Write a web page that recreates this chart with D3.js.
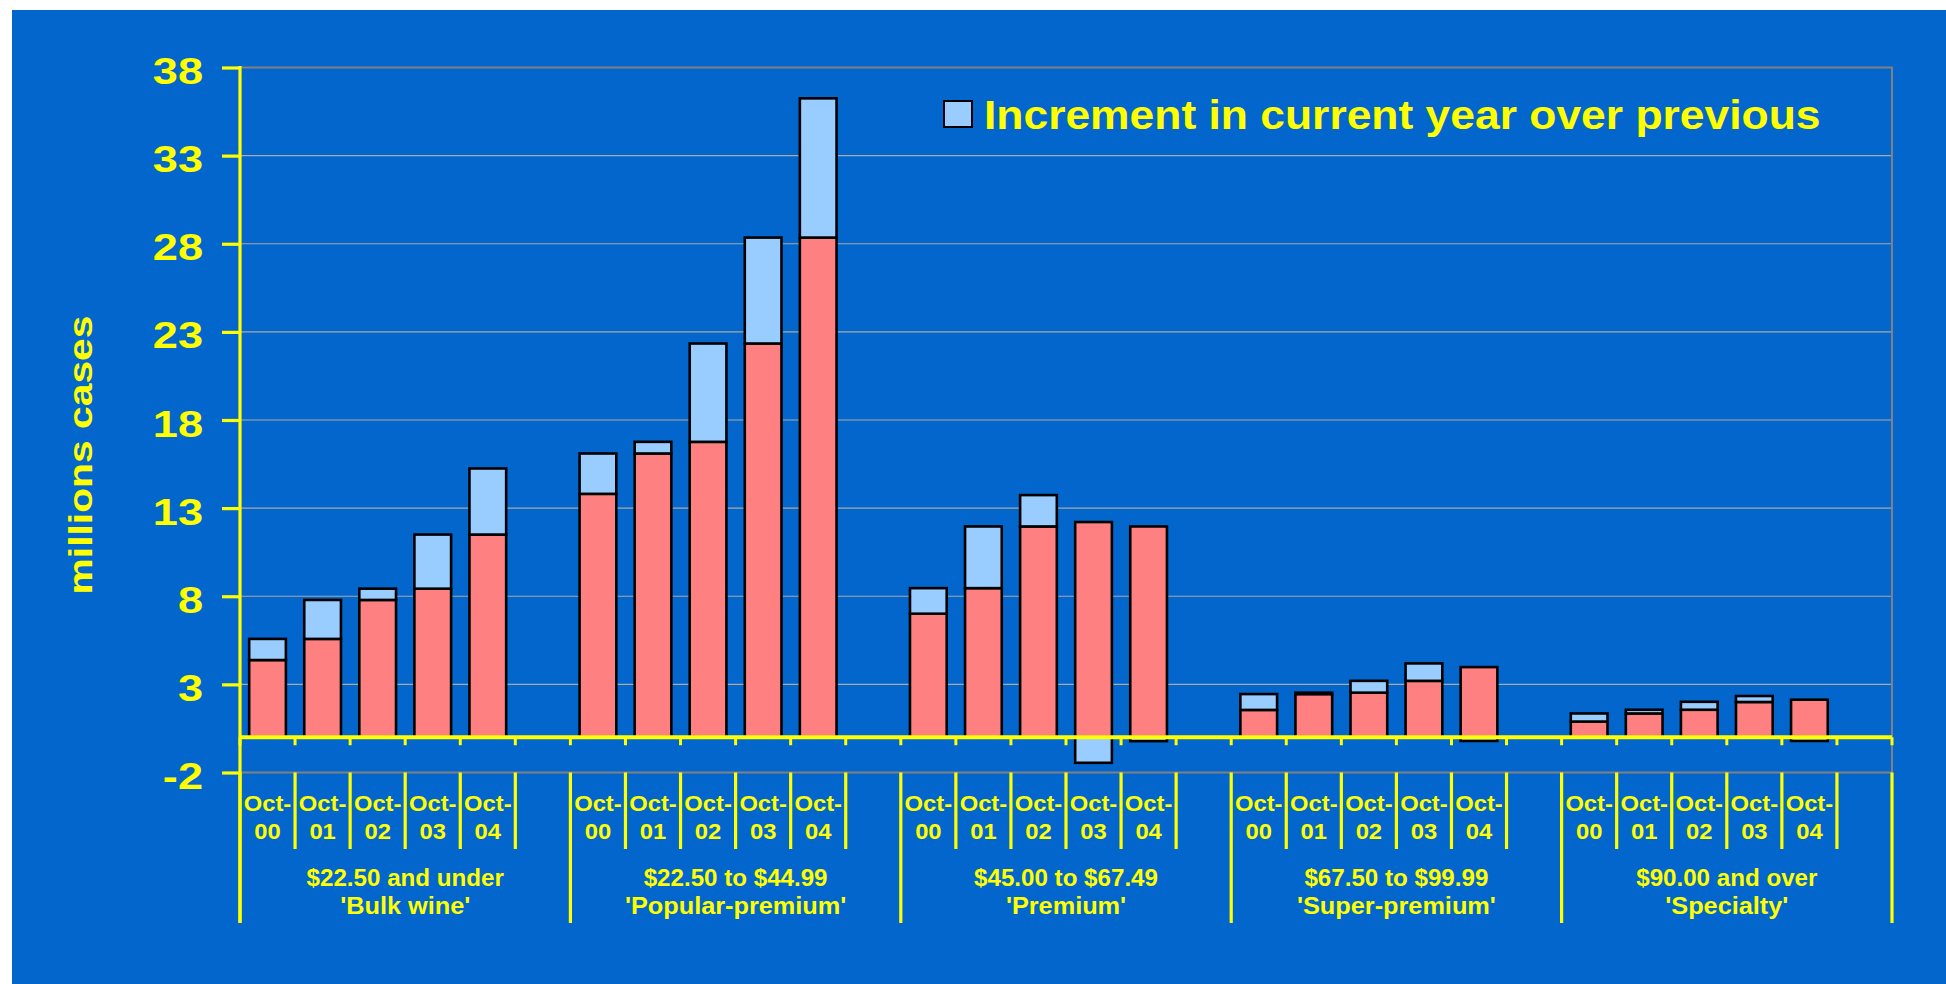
<!DOCTYPE html>
<html>
<head>
<meta charset="utf-8">
<script src="https://cdn.jsdelivr.net/npm/d3@7"></script>
<style>
  html, body { margin: 0; padding: 0; background: #ffffff; }
  svg { display: block; }
  text { font-family: "Liberation Sans", Arial, Helvetica, sans-serif; font-weight: bold; fill: #FFFF00; }
</style>
</head>
<body>
<svg id="chart" width="1946" height="984"></svg>
<script>
// ---------------- data ----------------
const groupPrice = ["$22.50 and under", "$22.50 to $44.99", "$45.00 to $67.49", "$67.50 to $99.99", "$90.00 and over"];
const groupName  = ["'Bulk wine'", "'Popular-premium'", "'Premium'", "'Super-premium'", "'Specialty'"];
const years = ["Oct-00", "Oct-01", "Oct-02", "Oct-03", "Oct-04"];
const yTicks = [-2, 3, 8, 13, 18, 23, 28, 33, 38];
const legendLabel = "Increment in current year over previous";
const yTitle = "millions cases";

// red part (base: previous year / retained volume), millions of cases
const bulkBase      = [4.38, 5.58, 7.79, 8.43, 11.50];
const popularBase   = [13.81, 16.10, 16.76, 22.34, 28.35];
const premiumBase   = [7.01, 8.46, 11.96, 12.21, 11.96];
const superBase     = [1.55, 2.45, 2.53, 3.20, 3.98];
const specialtyBase = [0.89, 1.35, 1.56, 2.00, 2.13];
// blue part: increment in current year over previous
const bulkIncrement      = [1.20, 2.21, 0.64, 3.07, 3.75];
const popularIncrement   = [2.29, 0.66, 5.58, 6.01, 7.90];
const premiumIncrement   = [1.45, 3.50, 1.78, -1.45, -0.22];
const superIncrement     = [0.90, 0.08, 0.67, 0.99, -0.21];
const specialtyIncrement = [0.46, 0.21, 0.45, 0.34, -0.21];

const baseSeries = [bulkBase, popularBase, premiumBase, superBase, specialtyBase];
const incSeries  = [bulkIncrement, popularIncrement, premiumIncrement, superIncrement, specialtyIncrement];

// ---------------- layout ----------------
const plotL = 240, plotR = 1892, plotT = 67.5, plotB = 772.5;
const colBg = "#0366CC", colRed = "#FF8080", colBlue = "#99CCFF", colYellow = "#FFFF00";

const svg = d3.select("#chart");
svg.append("rect").attr("x", 12).attr("y", 10).attr("width", 1946 - 12).attr("height", 984 - 10).attr("fill", colBg);

// slots: 5 bars + 1 empty slot per group
const slotKeys = [];
groupPrice.forEach((g, gi) => { for (let j = 0; j < 6; j++) slotKeys.push(gi + "|" + j); });

const x = d3.scaleBand().domain(slotKeys).range([plotL, plotR]).paddingInner(1/3).paddingOuter(1/6);
const step = x.step();
const y = d3.scaleLinear().domain([-2, 38]).range([plotB, plotT]);

// rows for stacking
const rows = [];
groupPrice.forEach((g, gi) => {
  years.forEach((yr, j) => {
    rows.push({ key: gi + "|" + j, base: baseSeries[gi][j], inc: incSeries[gi][j] });
  });
});
const stacked = d3.stack().keys(["base", "inc"]).offset(d3.stackOffsetDiverging)(rows);

function stxt(sel, tx, ty, str, size, sx, anchor, rot) {
  return sel.append("text")
    .attr("transform", `translate(${tx},${ty})` + (rot ? ` rotate(${rot})` : "") + ` scale(${sx},1)`)
    .attr("text-anchor", anchor)
    .style("font-size", size + "px")
    .text(str);
}

// gridlines
const grid = svg.append("g");
grid.selectAll("line").data(yTicks.filter(t => t !== -2 && t !== 38)).join("line")
  .attr("x1", plotL).attr("x2", plotR)
  .attr("y1", d => y(d)).attr("y2", d => y(d))
  .attr("stroke", "#A9A9A9").attr("stroke-width", 1.2);
// plot border (top, right, bottom)
svg.append("path")
  .attr("d", `M${plotL},${y(38)}H${plotR}V${y(-2)}H${plotL}`)
  .attr("fill", "none").attr("stroke", "#808080").attr("stroke-width", 2);

// bars
const colors = [colRed, colBlue];
stacked.forEach((layer, li) => {
  svg.append("g").selectAll("rect").data(layer).join("rect")
    .attr("x", d => x(d.data.key))
    .attr("width", x.bandwidth())
    .attr("y", d => y(Math.max(d[0], d[1])))
    .attr("height", d => Math.abs(y(d[0]) - y(d[1])))
    .attr("fill", colors[li])
    .attr("stroke", "#000").attr("stroke-width", 2.6);
});

// zero axis
svg.append("line").attr("x1", plotL).attr("x2", plotR).attr("y1", y(0)).attr("y2", y(0))
  .attr("stroke", colYellow).attr("stroke-width", 4);
const bounds = d3.range(0, slotKeys.length + 1).map(k => plotL + k * step);
svg.append("g").selectAll("line").data(bounds).join("line")
  .attr("x1", d => d).attr("x2", d => d)
  .attr("y1", y(0)).attr("y2", y(0) + 8)
  .attr("stroke", colYellow).attr("stroke-width", 3);

// category separator lines
svg.append("g").selectAll("line").data(bounds).join("line")
  .attr("x1", d => d).attr("x2", d => d)
  .attr("y1", plotB)
  .attr("y2", (d, i) => i % 6 === 0 ? 923 : 849)
  .attr("stroke", colYellow).attr("stroke-width", 3.2);

// y axis
const yAxis = d3.axisLeft(y).tickValues(yTicks).tickSize(18).tickFormat(d => String(d));
const ya = svg.append("g").attr("transform", `translate(${plotL},0)`).call(yAxis);
ya.select(".domain").remove();
ya.selectAll(".tick line").attr("stroke", colYellow).attr("stroke-width", 3.2);
ya.selectAll(".tick text")
  .attr("x", null).attr("dy", null)
  .attr("transform", "translate(-37,16) scale(1.22,1)")
  .attr("text-anchor", "end")
  .attr("fill", colYellow)
  .style("font-size", "37px");
svg.append("line").attr("x1", plotL).attr("x2", plotL).attr("y1", plotT - 1.5).attr("y2", 923)
  .attr("stroke", colYellow).attr("stroke-width", 3.2);

// x labels
const xl = svg.append("g");
groupPrice.forEach((g, gi) => {
  years.forEach((yr, j) => {
    const cx = x(gi + "|" + j) + x.bandwidth() / 2;
    const parts = yr.split("-");
    stxt(xl, cx, 810.5, parts[0] + "-", 22, 1.08, "middle");
    stxt(xl, cx, 839, parts[1], 22, 1.08, "middle");
  });
  const gx = plotL + (gi * 6 + 3) * step;
  stxt(xl, gx, 886, g, 23, 1.05, "middle");
  stxt(xl, gx, 914, groupName[gi], 23, 1.1, "middle");
});

// y title
stxt(svg, 91.5, 455, yTitle, 34, 1.2, "middle", -90);

// legend
svg.append("rect").attr("x", 944).attr("y", 101).attr("width", 28).attr("height", 26)
  .attr("fill", colBlue).attr("stroke", "#000").attr("stroke-width", 2);
stxt(svg, 984, 129, legendLabel, 41.5, 1.07, "start");
</script>
</body>
</html>
